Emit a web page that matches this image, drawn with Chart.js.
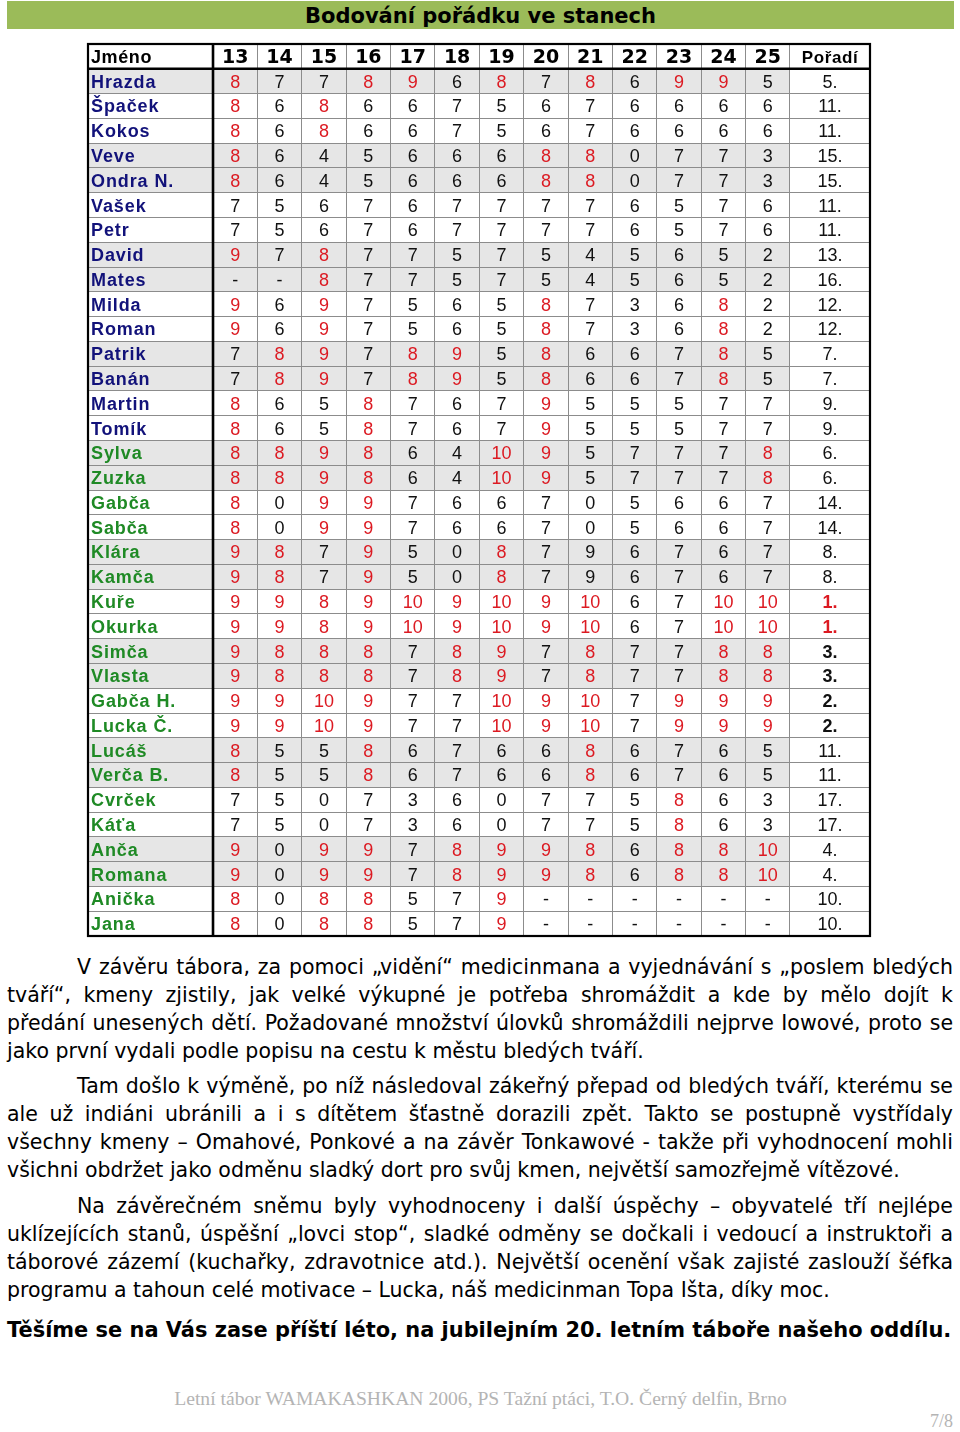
<!DOCTYPE html>
<html><head><meta charset="utf-8">
<script src="https://cdn.jsdelivr.net/npm/chart.js@4.4.1/dist/chart.umd.min.js"></script>
<style>
html,body{margin:0;padding:0;background:#fff;}
body{width:960px;height:1432px;position:relative;overflow:hidden;font-family:"DejaVu Sans",sans-serif;}
#wrap{position:absolute;left:0;top:0;width:960px;height:940px;}
#title{position:absolute;left:7px;top:1px;width:947px;height:28px;background:#9bbb59;text-align:center;font-weight:bold;font-size:21px;line-height:30px;color:#000;font-family:"DejaVu Sans",sans-serif;}
.ln{position:absolute;height:28px;line-height:28px;font-size:20.5px;white-space:nowrap;color:#000;font-family:"DejaVu Sans",sans-serif;}
.b{font-weight:bold;}
.foot{position:absolute;white-space:nowrap;color:#b4b4b4;font-family:"Liberation Serif",serif;}
</style>
</head><body>
<div id="wrap"><canvas id="c" width="960" height="940"></canvas></div>
<div id="title">Bodování pořádku ve stanech</div>

<div class="ln j" style="left:77px;top:953px">V závěru tábora, za pomoci „vidění“ medicinmana a vyjednávání s „poslem bledých</div>
<div class="ln j" style="left:7px;top:981px">tváří“, kmeny zjistily, jak velké výkupné je potřeba shromáždit a kde by mělo dojít k</div>
<div class="ln j" style="left:7px;top:1009px">předání unesených dětí. Požadované množství úlovků shromáždili nejprve Iowové, proto se</div>
<div class="ln" style="left:7px;top:1037px">jako první vydali podle popisu na cestu k městu bledých tváří.</div>

<div class="ln j" style="left:77px;top:1072px">Tam došlo k výměně, po níž následoval zákeřný přepad od bledých tváří, kterému se</div>
<div class="ln j" style="left:7px;top:1100px">ale už indiáni ubránili a i s dítětem šťastně dorazili zpět. Takto se postupně vystřídaly</div>
<div class="ln j" style="left:7px;top:1128px">všechny kmeny – Omahové, Ponkové a na závěr Tonkawové - takže při vyhodnocení mohli</div>
<div class="ln" style="left:7px;top:1156px">všichni obdržet jako odměnu sladký dort pro svůj kmen, největší samozřejmě vítězové.</div>

<div class="ln j" style="left:77px;top:1192px">Na závěrečném sněmu byly vyhodnoceny i další úspěchy – obyvatelé tří nejlépe</div>
<div class="ln j" style="left:7px;top:1220px">uklízejících stanů, úspěšní „lovci stop“, sladké odměny se dočkali i vedoucí a instruktoři a</div>
<div class="ln j" style="left:7px;top:1248px">táborové zázemí (kuchařky, zdravotnice atd.). Největší ocenění však zajisté zaslouží šéfka</div>
<div class="ln" style="left:7px;top:1276px">programu a tahoun celé motivace – Lucka, náš medicinman Topa Išta, díky moc.</div>

<div class="ln b" id="bold" style="left:7px;top:1316px">Těšíme se na Vás zase příští léto, na jubilejním 20. letním táboře našeho oddílu.</div>

<div class="foot" id="foot" style="top:1388px;font-size:19px;">Letní tábor WAMAKASHKAN 2006, PS Tažní ptáci, T.O. Černý delfin, Brno</div>
<div class="foot" style="left:930px;top:1411px;font-size:18px;">7/8</div>

<script>
// ---- data ----
const headerLabel = "Jméno";
const rankLabel = "Pořadí";
const days = ["13","14","15","16","17","18","19","20","21","22","23","24","25"];
const names = ["Hrazda","Špaček","Kokos","Veve","Ondra N.","Vašek","Petr","David","Mates","Milda","Roman","Patrik","Banán","Martin","Tomík","Sylva","Zuzka","Gabča","Sabča","Klára","Kamča","Kuře","Okurka","Simča","Vlasta","Gabča H.","Lucka Č.","Lucáš","Verča B.","Cvrček","Káťa","Anča","Romana","Anička","Jana"];
const nameGroup = ["A","A","A","A","A","A","A","A","A","A","A","A","A","A","A","B","B","B","B","B","B","B","B","B","B","B","B","B","B","B","B","B","B","B","B"];
const scoreRows = [
  [8,7,7,8,9,6,8,7,8,6,9,9,5],
  [8,6,8,6,6,7,5,6,7,6,6,6,6],
  [8,6,8,6,6,7,5,6,7,6,6,6,6],
  [8,6,4,5,6,6,6,8,8,0,7,7,3],
  [8,6,4,5,6,6,6,8,8,0,7,7,3],
  [7,5,6,7,6,7,7,7,7,6,5,7,6],
  [7,5,6,7,6,7,7,7,7,6,5,7,6],
  [9,7,8,7,7,5,7,5,4,5,6,5,2],
  [null,null,8,7,7,5,7,5,4,5,6,5,2],
  [9,6,9,7,5,6,5,8,7,3,6,8,2],
  [9,6,9,7,5,6,5,8,7,3,6,8,2],
  [7,8,9,7,8,9,5,8,6,6,7,8,5],
  [7,8,9,7,8,9,5,8,6,6,7,8,5],
  [8,6,5,8,7,6,7,9,5,5,5,7,7],
  [8,6,5,8,7,6,7,9,5,5,5,7,7],
  [8,8,9,8,6,4,10,9,5,7,7,7,8],
  [8,8,9,8,6,4,10,9,5,7,7,7,8],
  [8,0,9,9,7,6,6,7,0,5,6,6,7],
  [8,0,9,9,7,6,6,7,0,5,6,6,7],
  [9,8,7,9,5,0,8,7,9,6,7,6,7],
  [9,8,7,9,5,0,8,7,9,6,7,6,7],
  [9,9,8,9,10,9,10,9,10,6,7,10,10],
  [9,9,8,9,10,9,10,9,10,6,7,10,10],
  [9,8,8,8,7,8,9,7,8,7,7,8,8],
  [9,8,8,8,7,8,9,7,8,7,7,8,8],
  [9,9,10,9,7,7,10,9,10,7,9,9,9],
  [9,9,10,9,7,7,10,9,10,7,9,9,9],
  [8,5,5,8,6,7,6,6,8,6,7,6,5],
  [8,5,5,8,6,7,6,6,8,6,7,6,5],
  [7,5,0,7,3,6,0,7,7,5,8,6,3],
  [7,5,0,7,3,6,0,7,7,5,8,6,3],
  [9,0,9,9,7,8,9,9,8,6,8,8,10],
  [9,0,9,9,7,8,9,9,8,6,8,8,10],
  [8,0,8,8,5,7,9,null,null,null,null,null,null],
  [8,0,8,8,5,7,9,null,null,null,null,null,null]
];
const ranks = [5,11,11,15,15,11,11,13,16,12,12,7,7,9,9,6,6,14,14,8,8,1,1,3,3,2,2,11,11,17,17,4,4,10,10];
// cells with a high score printed in plain (black) colour: [row, dayIndex]
const plainHighCells = [[19,8],[20,8]];

// ---- layout ----
const colWidths = [125].concat(days.map(()=>44.38)).concat([80]);
const edges = [0]; colWidths.forEach(w=>edges.push(edges[edges.length-1]+w));
const totalW = edges[edges.length-1];
const centers = colWidths.map((w,i)=>edges[i]+w/2);
const nRows = names.length + 1;
const RED = '#dc1a22', NAVY = '#12127a', GREEN = '#1f8a25';

function isPlain(r,d){return plainHighCells.some(p=>p[0]===r&&p[1]===d);}
function shaded(r){return r===0 || Math.floor((r-1)/2)%2===1;}

const datasets = [];
datasets.push({
  label:'header', data: colWidths.map((w,i)=>({x: i===0? edges[0]: centers[i], y:0.5})),
  cells: [headerLabel].concat(days).concat([rankLabel]).map((t,i)=>({
    text:t, align: i===0?'left':'center',
    font: i===0 ? 'bold 18px "Liberation Sans"' : (i===colWidths.length-1 ? 'bold 17px "Liberation Sans"' : 'bold 19px "DejaVu Sans"'),
    color:'#000', ls: i===0||i===colWidths.length-1 ? '0.6px':'0px', dx: i===0?3:0
  }))
});
datasets.push({
  label:'names', data: names.map((n,r)=>({x: edges[0], y: r+1.5})),
  cells: names.map((n,r)=>({text:n, align:'left', font:'bold 18px "Liberation Sans"', color: nameGroup[r]==='A'?NAVY:GREEN, ls:'0.9px', dx:3}))
});
days.forEach((d,di)=>{
  datasets.push({
    label:'day'+d, data: names.map((n,r)=>({x: centers[di+1], y: r+1.5})),
    cells: scoreRows.map((row,r)=>{
      const v=row[di];
      return {text: v===null?'-':String(v), align:'center', font:'18px "Liberation Sans"',
        color: (v!==null && v>=8 && !isPlain(r,di)) ? RED : '#111', ls:'0px', dx:0};
    })
  });
});
datasets.push({
  label:'rank', data: names.map((n,r)=>({x: centers[colWidths.length-1], y: r+1.5})),
  cells: ranks.map(v=>({text: v+'.', align:'center', font: (v<=3?'bold ':'')+'18px "Liberation Sans"', color: v===1?RED:'#111', ls:'0px', dx:0}))
});
datasets.forEach(ds=>{ds.pointRadius=0; ds.pointHoverRadius=0; ds.showLine=false;});

const tablePlugin = {
  id:'table',
  beforeDraw(chart){
    const {ctx, scales:{x,y}} = chart;
    ctx.save();
    ctx.fillStyle = '#e6e6e6';
    for(let r=1;r<nRows;r++){
      if(!shaded(r-1)) continue;
      const y0=y.getPixelForValue(r), y1=y.getPixelForValue(r+1);
      const x0=x.getPixelForValue(edges[0]), x1=x.getPixelForValue(edges[edges.length-2]);
      ctx.fillRect(x0,y0,x1-x0,y1-y0);
    }
    ctx.restore();
  },
  afterDatasetsDraw(chart){
    const {ctx} = chart;
    ctx.save();
    chart.data.datasets.forEach((ds,i)=>{
      const meta = chart.getDatasetMeta(i);
      meta.data.forEach((el,j)=>{
        const c = ds.cells[j];
        ctx.font = c.font;
        ctx.letterSpacing = c.ls;
        ctx.fillStyle = c.color;
        ctx.textAlign = c.align;
        ctx.textBaseline = 'alphabetic';
        ctx.fillText(c.text, el.x + c.dx, el.y + 6.5);
      });
    });
    ctx.restore();
  },
  afterDraw(chart){
    const {ctx, chartArea:a, scales:{x,y}} = chart;
    ctx.save();
    ctx.strokeStyle='#000';
    ctx.lineWidth=2.2;
    ctx.strokeRect(a.left,a.top,a.right-a.left,a.bottom-a.top);
    ctx.lineWidth=2.6;
    const xn = x.getPixelForValue(edges[1]);
    ctx.beginPath(); ctx.moveTo(xn,a.top); ctx.lineTo(xn,a.bottom); ctx.stroke();
    const yh = y.getPixelForValue(1);
    ctx.beginPath(); ctx.moveTo(a.left,yh); ctx.lineTo(a.right,yh); ctx.stroke();
    ctx.restore();
  }
};

new Chart(document.getElementById('c'), {
  type:'scatter',
  data:{datasets},
  plugins:[tablePlugin],
  options:{
    responsive:false, animation:false, devicePixelRatio:1,
    layout:{padding:{left:88,top:44,right:90,bottom:4}},
    plugins:{legend:{display:false}, tooltip:{enabled:false}},
    events:[],
    scales:{
      x:{type:'linear', min:0, max:totalW, ticks:{display:false}, border:{display:false},
         grid:{color:'#8c8c8c', lineWidth:1, drawTicks:false},
         afterBuildTicks(s){s.ticks = edges.map(v=>({value:v}));}},
      y:{type:'linear', reverse:true, min:0, max:nRows, ticks:{display:false}, border:{display:false},
         grid:{color:'#8c8c8c', lineWidth:1, drawTicks:false},
         afterBuildTicks(s){s.ticks = Array.from({length:nRows+1},(_,i)=>({value:i}));}}
    }
  }
});

document.querySelectorAll('.ln.j').forEach(el=>{
  const left = parseFloat(el.style.left);
  const target = 953 - left;
  const w = el.getBoundingClientRect().width;
  const spaces = (el.textContent.match(/ /g)||[]).length;
  if(spaces) el.style.wordSpacing = ((target - w)/spaces) + 'px';
});
(function(){
  const el = document.getElementById('bold');
  const w = el.getBoundingClientRect().width;
  el.style.fontSize = (20.5*945/w)+'px';
  const f = document.getElementById('foot');
  const fw = f.getBoundingClientRect().width;
  f.style.fontSize = (19*613/fw)+'px';
  const fw2 = f.getBoundingClientRect().width;
  f.style.left = (480.5 - fw2/2)+'px';
})();
</script>
</body></html>
